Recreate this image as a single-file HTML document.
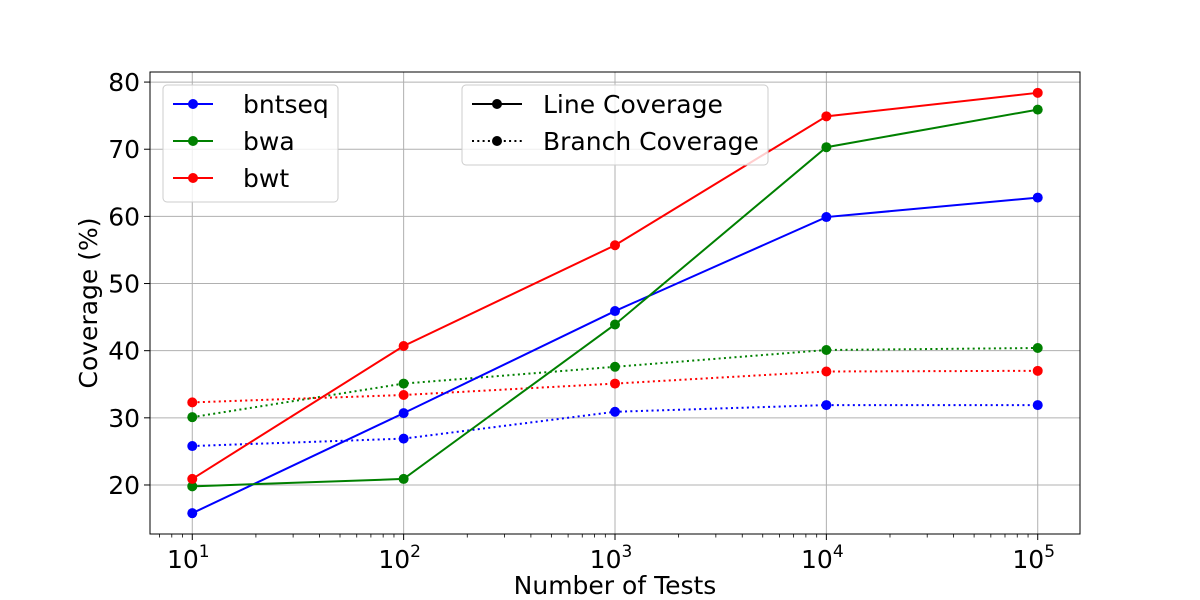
<!DOCTYPE html>
<html><head><meta charset="utf-8"><style>
body{margin:0;background:#fff}
svg{display:block;font-family:"DejaVu Sans","Liberation Sans",sans-serif}
</style></head><body>
<svg id="chart" width="1200" height="600">
<g id="grid"></g>
<g id="series"></g>
<rect x="150" y="72" width="930" height="462" fill="none" stroke="#000" stroke-width="1"/>
<g id="axes"></g>
<text x="615" y="594" font-size="25" text-anchor="middle">Number of Tests</text>
<text transform="translate(97,303) rotate(-90)" font-size="25" text-anchor="middle">Coverage (%)</text>
<g>
<rect x="163" y="85" width="175" height="117" rx="4" fill="#fff" fill-opacity="0.8" stroke="#ccc"/>
<line x1="173" y1="104" x2="213" y2="104" stroke="blue" stroke-width="2"/><circle cx="193" cy="104" r="5" fill="blue"/>
<text x="243" y="113" font-size="25">bntseq</text>
<line x1="173" y1="141" x2="213" y2="141" stroke="green" stroke-width="2"/><circle cx="193" cy="141" r="5" fill="green"/>
<text x="243" y="150" font-size="25">bwa</text>
<line x1="173" y1="178" x2="213" y2="178" stroke="red" stroke-width="2"/><circle cx="193" cy="178" r="5" fill="red"/>
<text x="243" y="187" font-size="25">bwt</text>
</g>
<g>
<rect x="462" y="85" width="306" height="80" rx="4" fill="#fff" fill-opacity="0.8" stroke="#ccc"/>
<line x1="472" y1="104" x2="522" y2="104" stroke="#000" stroke-width="2"/><circle cx="497" cy="104" r="5" fill="#000"/>
<text x="543" y="113" font-size="25">Line Coverage</text>
<line x1="472" y1="141" x2="522" y2="141" stroke="#000" stroke-width="2" stroke-dasharray="2,3.3"/><circle cx="497" cy="141" r="5" fill="#000"/>
<text x="543" y="150" font-size="25">Branch Coverage</text>
</g>
</svg>
<script>
const tests = [10, 100, 1000, 10000, 100000];
const bntseqLine = [15.8, 30.7, 45.9, 59.9, 62.8];
const bwaLine = [19.8, 20.9, 43.9, 70.3, 75.9];
const bwtLine = [20.9, 40.7, 55.7, 74.9, 78.4];
const bntseqBranch = [25.8, 26.9, 30.9, 31.9, 31.9];
const bwaBranch = [30.1, 35.1, 37.6, 40.1, 40.4];
const bwtBranch = [32.3, 33.4, 35.1, 36.9, 37.0];
const yTicks = [20, 30, 40, 50, 60, 70, 80];
const xTickExps = [1, 2, 3, 4, 5];

const NS = "http://www.w3.org/2000/svg";
const X0 = 150, X1 = 1080, Y0 = 534, Y1 = 72;
const lmin = 0.8, lmax = 5.2, ymin = 12.7, ymax = 81.5;
const xs = v => X0 + (Math.log10(v) - lmin) / (lmax - lmin) * (X1 - X0);
const ys = v => Y0 - (v - ymin) / (ymax - ymin) * (Y0 - Y1);
function mk(tag, attrs, parent) {
  const e = document.createElementNS(NS, tag);
  for (const k in attrs) e.setAttribute(k, attrs[k]);
  parent.appendChild(e); return e;
}
const grid = document.getElementById('grid'), axes = document.getElementById('axes'), ser = document.getElementById('series');
yTicks.forEach(t => {
  const y = ys(t);
  const g = mk('line', {x1: X0, x2: X1, y1: y, y2: y, stroke: '#b0b0b0', 'stroke-width': 1}, grid);
  
  
  mk('line', {x1: X0 - 6, x2: X0, y1: y, y2: y, stroke: '#000'}, axes);
  const tx = mk('text', {x: X0 - 10, y: y + 9, 'font-size': 25, 'text-anchor': 'end'}, axes);
  tx.textContent = t;
  
  
});
xTickExps.forEach(e => {
  const x = xs(Math.pow(10, e));
  const g = mk('line', {x1: x, x2: x, y1: Y0, y2: Y1, stroke: '#b0b0b0', 'stroke-width': 1}, grid);
  
  
  mk('line', {x1: x, x2: x, y1: Y0, y2: Y0 + 6, stroke: '#000'}, axes);
  const tx = mk('text', {x: x - 4, y: Y0 + 34, 'font-size': 25, 'text-anchor': 'middle'}, axes);
  
  
  tx.textContent = '10';
  const sup = mk('tspan', {dy: -11, 'font-size': 17}, tx);
  sup.textContent = e;
});
for (let e = 0; e <= 5; e++) for (let m = 2; m <= 9; m++) {
  const v = m * Math.pow(10, e), x = xs(v);
  if (x > X0 && x < X1) mk('line', {x1: x, x2: x, y1: Y0, y2: Y0 + 3.5, stroke: '#000', 'stroke-width': 0.8}, axes);
}
function series(vals, color, dotted, name) {
  const g = mk('g', {}, ser);
  
  
  const pts = vals.map((v, i) => xs(tests[i]) + ',' + ys(v)).join(' ');
  const a = {points: pts, fill: 'none', stroke: color, 'stroke-width': 2};
  if (dotted) a['stroke-dasharray'] = '2,3.3';
  mk('polyline', a, g);
  vals.forEach((v, i) => {
    const c = mk('circle', {cx: xs(tests[i]), cy: ys(v), r: 5, fill: color}, g);
    
    
  });
}
series(bntseqBranch, 'blue', true, 'bntseq-branch');
series(bwaBranch, 'green', true, 'bwa-branch');
series(bwtBranch, 'red', true, 'bwt-branch');
series(bntseqLine, 'blue', false, 'bntseq-line');
series(bwaLine, 'green', false, 'bwa-line');
series(bwtLine, 'red', false, 'bwt-line');
</script>
</body></html>
